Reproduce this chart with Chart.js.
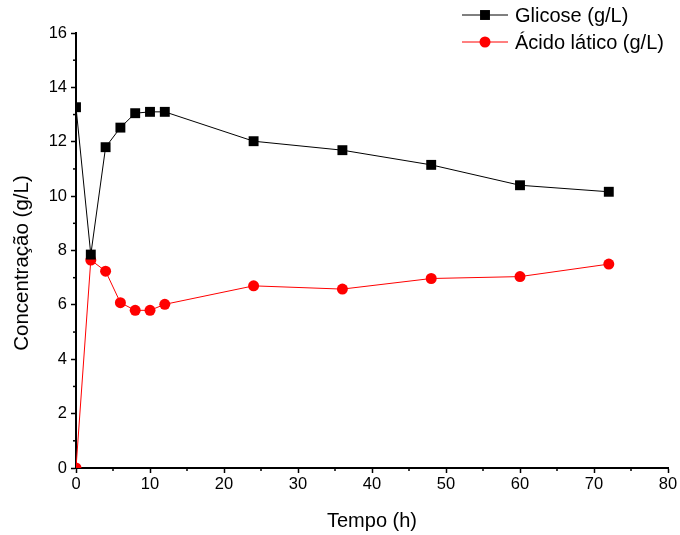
<!DOCTYPE html>
<html><head><meta charset="utf-8">
<script src="https://cdn.jsdelivr.net/npm/chart.js@4/dist/chart.umd.min.js"></script>
<style>html,body{margin:0;padding:0;background:#fff}#wrap{width:680px;height:535px}</style>
</head><body><div id="wrap"><canvas id="c" width="680" height="535"></canvas></div>
<script>
const tempo = [0, 2, 4, 6, 8, 10, 12, 24, 36, 48, 60, 72];
const glicose = [13.27, 7.85, 11.8, 12.52, 13.05, 13.1, 13.1, 12.02, 11.69, 11.15, 10.4, 10.16];
const acidoLatico = [0, 7.65, 7.24, 6.08, 5.8, 5.8, 6.02, 6.7, 6.58, 6.97, 7.04, 7.5];
const seriesNames = ['Glicose (g/L)', 'Ácido lático (g/L)'];
const xTitle = 'Tempo (h)';
const yTitle = 'Concentração (g/L)';

const FONT = "'Liberation Sans', Arial, sans-serif";

const axisExtras = {
  id: 'axisExtras',
  afterDraw(chart) {
    const ctx = chart.ctx, x = chart.scales.x, y = chart.scales.y;
    ctx.save();
    ctx.strokeStyle = '#000'; ctx.lineWidth = 1.5;
    for (let v = 5; v < 80; v += 10) {
      const px = x.getPixelForValue(v);
      ctx.beginPath(); ctx.moveTo(px, x.top); ctx.lineTo(px, x.top + 3); ctx.stroke();
    }
    for (let v = 1; v < 16; v += 2) {
      const py = y.getPixelForValue(v);
      ctx.beginPath(); ctx.moveTo(y.right, py); ctx.lineTo(y.right - 3, py); ctx.stroke();
    }
    ctx.fillStyle = '#000';
    ctx.textAlign = 'center'; ctx.textBaseline = 'middle';
    // x axis title
    ctx.font = '20px ' + FONT;
    ctx.fillText(xTitle, (x.left + x.right) / 2, 521);
    // y axis title
    ctx.translate(22, 263);
    ctx.rotate(-Math.PI / 2);
    ctx.font = '20.5px ' + FONT;
    ctx.fillText(yTitle, 0, 0);
    ctx.restore();
  }
};

const customLegend = {
  id: 'customLegend',
  afterDraw(chart) {
    const ctx = chart.ctx;
    const items = [
      {name: seriesNames[0], color: '#000', y: 15, style: 'rect', r: 7},
      {name: seriesNames[1], color: '#ff0000', y: 42, style: 'circle', r: 5.5}
    ];
    ctx.save();
    items.forEach(it => {
      ctx.strokeStyle = it.color; ctx.lineWidth = 1;
      ctx.beginPath(); ctx.moveTo(462, it.y); ctx.lineTo(508, it.y); ctx.stroke();
      ctx.fillStyle = it.color;
      if (it.style === 'rect') { const s = it.r / Math.SQRT2; ctx.fillRect(485 - s, it.y - s, 2 * s, 2 * s); }
      else { ctx.beginPath(); ctx.arc(485, it.y, it.r, 0, Math.PI * 2); ctx.fill(); }
      ctx.fillStyle = '#000';
      ctx.font = '20px ' + FONT;
      ctx.textBaseline = 'middle'; ctx.textAlign = 'left';
      ctx.fillText(it.name, 515, it.y + 1);
    });
    ctx.restore();
  }
};

new Chart(document.getElementById('c'), {
  type: 'line',
  data: {
    datasets: [
      {
        label: seriesNames[0],
        data: tempo.map((t, i) => ({x: t, y: glicose[i]})),
        borderColor: '#000', backgroundColor: '#000', borderWidth: 1,
        pointStyle: 'rect', pointRadius: 7, pointBorderWidth: 0, pointHoverRadius: 7,
        tension: 0, clip: 0
      },
      {
        label: seriesNames[1],
        data: tempo.map((t, i) => ({x: t, y: acidoLatico[i]})),
        borderColor: '#ff0000', backgroundColor: '#ff0000', borderWidth: 1,
        pointStyle: 'circle', pointRadius: 5.5, pointBorderWidth: 0, pointHoverRadius: 5.5,
        tension: 0, clip: 0
      }
    ]
  },
  options: {
    responsive: false, animation: false,
    layout: {padding: {left: 0, right: 12, top: 33, bottom: 0}},
    plugins: {legend: {display: false}, tooltip: {enabled: false}},
    scales: {
      x: {
        type: 'linear', min: 0, max: 80,
        afterFit(s) { s.height = 67; },
        ticks: {stepSize: 10, color: '#000', font: {family: FONT, size: 16.5}, padding: 2, maxRotation: 0},
        grid: {display: true, drawOnChartArea: false, drawTicks: true, tickLength: 5, tickColor: '#000', tickWidth: 1.5},
        border: {display: true, color: '#000', width: 2},
        title: {display: false}
      },
      y: {
        type: 'linear', min: 0, max: 16,
        afterFit(s) { s.width = 76; },
        ticks: {stepSize: 2, color: '#000', font: {family: FONT, size: 16.5}, padding: 4},
        grid: {display: true, drawOnChartArea: false, drawTicks: true, tickLength: 5, tickColor: '#000', tickWidth: 1.5},
        border: {display: true, color: '#000', width: 2},
        title: {display: false}
      }
    }
  },
  plugins: [axisExtras, customLegend]
});
</script>
</body></html>
